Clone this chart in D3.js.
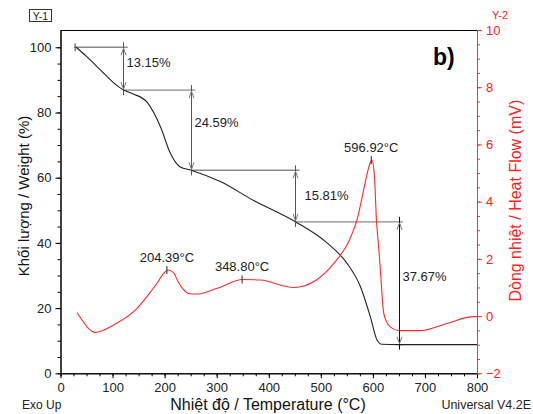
<!DOCTYPE html>
<html>
<head>
	<meta charset="utf-8">
	<title>TGA / DSC</title>
	<script src="https://d3js.org/d3.v7.min.js"></script>
	<style>
		body { margin: 0; background: #fff; }
		text { font-family: 'Liberation Sans', Arial, sans-serif; }
	</style>
</head>
<body>
	<div class="chart"></div>

	<script type="text/javascript">
		// TGA curve (weight %)
		const tgaTemp = [30, 50, 77, 100, 121, 140, 167, 192, 211, 230, 251, 307, 371, 451, 512, 550, 576, 595, 608, 617, 650, 800]
		const tgaWeight = [100, 97.2, 93.0, 89.4, 86.9, 85.7, 83.0, 75.6, 67.5, 63.3, 62.3, 58.8, 53.0, 46.5, 40.0, 33.8, 26.6, 17.4, 10.2, 8.9, 8.8, 8.8]

		// DSC curve (heat flow mV)
		const dscTemp = [32, 37, 67, 102, 147, 166, 185, 197, 207, 217, 226, 236, 246, 261, 301, 350, 384, 448, 493, 525, 555, 570, 585, 592, 598, 603, 607, 610, 614, 621, 633, 652, 691, 742, 793, 800]
		const dscHeat = [0.12, -0.02, -0.57, -0.31, 0.27, 0.68, 1.14, 1.47, 1.61, 1.52, 1.2, 0.93, 0.79, 0.77, 0.97, 1.28, 1.26, 1.0, 1.28, 1.84, 2.66, 3.4, 4.64, 5.2, 5.45, 4.9, 3.3, 2.66, 1.72, 0.09, -0.37, -0.51, -0.51, -0.26, -0.02, -0.02]

		// weight loss steps
		const stepTemp = [121, 251, 451, 650]
		const stepLevels = [100, 86.85, 62.26, 46.45, 8.78]
		const stepLabels = ['13.15%', '24.59%', '15.81%', '37.67%']
		const stepLabelWeight = [95.5, 76.8, 54.5, 29.8]

		// DSC peaks
		const peakTemp = [204.39, 348.80, 596.92]
		const peakHeat = [1.61, 1.28, 5.45]
		const peakLabels = ['204.39°C', '348.80°C', '596.92°C']

		const xTicks = [0, 100, 200, 300, 400, 500, 600, 700, 800]
		const yTicks = [0, 20, 40, 60, 80, 100]
		const y2Ticks = [-2, 0, 2, 4, 6, 8, 10]

		var width = 533
		var height = 414
		var pLeft = 60.5, pRight = 477, pTop = 30, pBottom = 373.3

		var svg = d3.select('.chart').append('svg')
			.attr('width', width)
			.attr('height', height)

		// scales
		const x = d3.scaleLinear().domain([0, 800]).range([pLeft, pRight])
		const y = d3.scaleLinear().domain([0, 105.3]).range([pBottom, pTop])
		const y2 = d3.scaleLinear().domain([-2, 10]).range([pBottom, pTop])

		// top border
		svg.append('line')
			.attr('x1', pLeft).attr('x2', pRight)
			.attr('y1', pTop + 0.5).attr('y2', pTop + 0.5)
			.attr('stroke', '#000')

		// minor ticks
		svg.append('g')
			.attr('transform', `translate(0, ${pBottom})`)
			.call(d3.axisBottom(x).tickValues(d3.range(0, 801, 25)).tickSize(3).tickFormat(''))
		svg.append('g')
			.attr('transform', `translate(${pLeft}, 0)`)
			.call(d3.axisLeft(y).tickValues(d3.range(0, 101, 5)).tickSize(3).tickFormat('').tickSizeOuter(0))
		svg.append('g')
			.attr('class', 'red')
			.attr('transform', `translate(${pRight}, 0)`)
			.call(d3.axisRight(y2).tickValues(d3.range(-2, 10.1, 0.5)).tickSize(3).tickFormat('').tickSizeOuter(0))

		// major axes
		svg.append('g')
			.attr('transform', `translate(0, ${pBottom})`)
			.call(d3.axisBottom(x).tickValues(xTicks).tickSize(5).tickSizeOuter(0).tickPadding(4))
		svg.append('g')
			.attr('transform', `translate(${pLeft}, 0)`)
			.call(d3.axisLeft(y).tickValues(yTicks).tickSize(5).tickSizeOuter(0).tickPadding(4))
		svg.append('g')
			.attr('class', 'red')
			.attr('transform', `translate(${pRight}, 0)`)
			.call(d3.axisRight(y2).tickValues(y2Ticks).tickSize(5).tickSizeOuter(0).tickPadding(4))

		svg.selectAll('.tick text')
			.attr('font-size', 13)
			.attr('font-family', "'Liberation Sans', Arial, sans-serif")
			.attr('fill', '#222')
		svg.selectAll('.red path, .red line').attr('stroke', '#ff3030')
		svg.selectAll('.red .tick text').attr('fill', '#ff2020')

		// annotation lines (gray horizontals)
		const hStart = stepLevels.map((d, i) => i === 0 ? 30 : stepTemp[i - 1])
		const hEnd = stepLevels.map((d, i) => (i < stepTemp.length ? stepTemp[i] : stepTemp[i - 1]) + 8)
		svg.append('g')
			.selectAll('line')
			.data(stepLevels)
			.join('line')
			.attr('x1', (d, i) => x(hStart[i]) - (i === 0 ? 2 : 0))
			.attr('x2', (d, i) => x(hEnd[i]))
			.attr('y1', (d) => y(d))
			.attr('y2', (d) => y(d))
			.attr('stroke', '#8a8a8a')
			.attr('stroke-width', 1.4)

		// small tick at start of curve
		svg.append('line')
			.attr('x1', x(30) - 1).attr('x2', x(30) - 1)
			.attr('y1', y(100) - 4).attr('y2', y(100) + 4)
			.attr('stroke', '#444')

		// TGA curve
		const tgaLine = d3.line()
			.x((d, i) => x(tgaTemp[i]))
			.y((d) => y(d))
			.curve(d3.curveMonotoneX)
		svg.append('path')
			.attr('d', tgaLine(tgaWeight))
			.attr('fill', 'none')
			.attr('stroke', '#222')
			.attr('stroke-width', 1.1)

		// DSC curve
		const dscLine = d3.line()
			.x((d, i) => x(dscTemp[i]))
			.y((d) => y2(d))
			.curve(d3.curveMonotoneX)
		svg.append('path')
			.attr('d', dscLine(dscHeat))
			.attr('fill', 'none')
			.attr('stroke', '#ff2a2a')
			.attr('stroke-width', 1.1)

		// vertical double arrows
		const arrows = svg.append('g')
		stepTemp.forEach((t, i) => {
			const xx = Math.round(x(t)) + 0.5
			const ya = y(stepLevels[i]), yb = y(stepLevels[i + 1])
			const col = i === 3 ? '#111' : '#555'
			arrows.append('line')
				.attr('x1', xx).attr('x2', xx)
				.attr('y1', ya - 5).attr('y2', yb + 5)
				.attr('stroke', col)
			arrows.append('path')
				.attr('d', `M${xx - 2.5},${ya + 8}L${xx},${ya + 1}L${xx + 2.5},${ya + 8}`)
				.attr('fill', 'none').attr('stroke', '#777')
			arrows.append('path')
				.attr('d', `M${xx - 2.5},${yb - 8}L${xx},${yb - 1}L${xx + 2.5},${yb - 8}`)
				.attr('fill', 'none').attr('stroke', '#777')
			arrows.append('text')
				.attr('x', xx + (i === 2 ? 9 : 3))
				.attr('y', y(stepLabelWeight[i]))
				.attr('dy', '0.35em')
				.attr('font-size', 13)
				.attr('fill', '#222')
				.text(stepLabels[i])
		})

		// DSC peaks
		const peaks = svg.append('g')
		peakTemp.forEach((t, i) => {
			const px = x(t), py = y2(peakHeat[i])
			peaks.append('line')
				.attr('x1', px).attr('x2', px)
				.attr('y1', py - 4).attr('y2', py + 4)
				.attr('stroke', '#222')
			peaks.append('text')
				.attr('x', px)
				.attr('y', py - 8)
				.attr('text-anchor', 'middle')
				.attr('font-size', 13)
				.attr('fill', '#222')
				.text(peakLabels[i])
		})

		// titles
		svg.append('text')
			.attr('transform', `translate(29, 196) rotate(-90)`)
			.attr('text-anchor', 'middle')
			.attr('font-size', 15)
			.attr('fill', '#111')
			.text('Khối lượng / Weight (%)')
		svg.append('text')
			.attr('transform', `translate(521, ${(pTop + pBottom) / 2 - 1}) rotate(-90)`)
			.attr('text-anchor', 'middle')
			.attr('font-size', 16)
			.attr('fill', '#ff2020')
			.text('Dòng nhiệt / Heat Flow (mV)')
		svg.append('text')
			.attr('x', 268).attr('y', 410)
			.attr('text-anchor', 'middle')
			.attr('font-size', 16)
			.attr('fill', '#111')
			.text('Nhiệt độ / Temperature (°C)')
		svg.append('text')
			.attr('x', 22).attr('y', 409)
			.attr('font-size', 12)
			.attr('fill', '#222')
			.text('Exo Up')
		svg.append('text')
			.attr('x', 531).attr('y', 409)
			.attr('text-anchor', 'end')
			.attr('font-size', 12.5)
			.attr('fill', '#222')
			.text('Universal V4.2E')
		svg.append('text')
			.attr('x', 433).attr('y', 65)
			.attr('font-size', 23)
			.attr('font-weight', 'bold')
			.attr('fill', '#000')
			.text('b)')

		// Y-1 / Y-2 labels
		svg.append('rect')
			.attr('x', 29.5).attr('y', 9.5)
			.attr('width', 22).attr('height', 12)
			.attr('fill', 'none').attr('stroke', '#333')
		svg.append('text')
			.attr('x', 40.5).attr('y', 19.5)
			.attr('text-anchor', 'middle')
			.attr('font-size', 10.5)
			.attr('fill', '#222')
			.text('Y-1')
		svg.append('text')
			.attr('x', 500).attr('y', 19)
			.attr('text-anchor', 'middle')
			.attr('font-size', 11)
			.attr('fill', '#ff2020')
			.text('Y-2')
	</script>
</body>
</html>
